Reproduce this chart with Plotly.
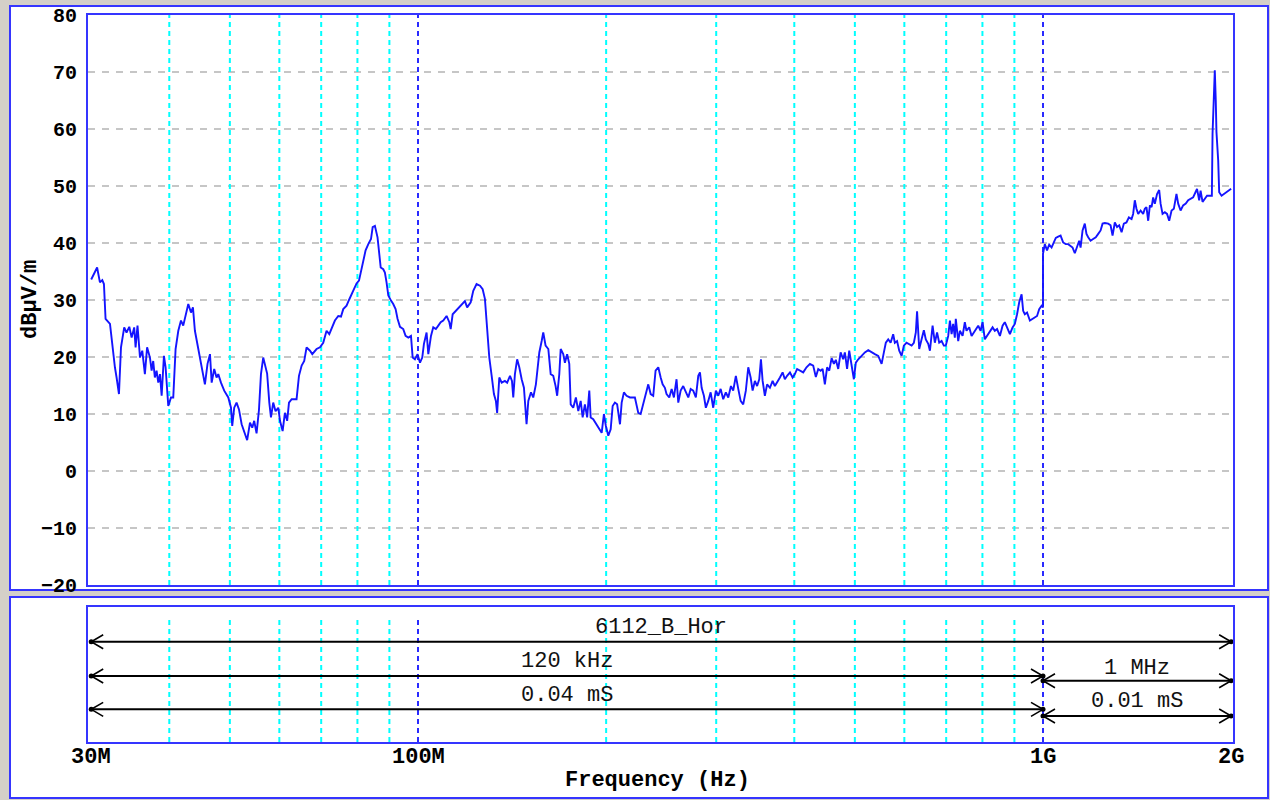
import math
import plotly.graph_objects as go

# ---------------- data ----------------
freq_mhz = [
    30.00, 30.66, 30.98, 31.25, 31.44, 31.63, 32.15, 32.42, 32.74, 32.94,
    33.23, 33.48, 33.88, 34.17, 34.52, 34.82, 35.15, 35.33, 35.58, 35.91,
    36.21, 36.56, 36.86, 37.25, 37.48, 37.70, 37.93, 38.17, 38.41, 38.65,
    38.89, 39.22, 39.46, 39.85, 40.25, 40.59, 40.94, 41.35, 41.76, 42.11,
    42.37, 42.90, 43.33, 43.64, 43.96, 44.38, 44.79, 45.16, 45.61, 46.05,
    46.47, 46.76, 47.20, 47.61, 47.91, 48.39, 48.97, 49.71, 50.21, 50.44,
    50.81, 51.25, 51.71, 52.22, 52.72,
    53.29, 53.85, 54.30, 54.69, 55.17, 55.66, 56.07, 56.54, 57.03, 57.36,
    57.82, 58.18, 58.66, 59.17, 59.77, 60.14, 60.73, 61.24, 61.75, 62.17,
    62.79, 63.93, 64.50, 65.14, 65.76, 66.33, 67.17, 67.74, 68.82, 69.69,
    70.53, 71.40, 72.12, 72.92, 73.63, 74.55, 75.30, 75.93, 76.86, 77.55,
    78.32, 79.06, 79.74, 80.46, 81.05, 81.73, 82.44, 83.27, 84.10, 84.62,
    85.32, 86.15, 86.62, 87.16, 87.98, 88.52, 89.06, 89.64, 90.53, 91.28,
    92.08, 92.74, 93.58, 94.71, 95.53, 96.49, 97.45, 98.05, 98.87, 99.83,
    100.74, 101.58, 102.21, 103.21, 103.87, 104.90, 105.78,
    106.81, 107.77, 108.72, 109.75, 111.10, 112.23, 112.80, 113.62, 114.98, 116.44,
    117.89, 118.87, 119.85, 121.43, 122.58, 124.08, 125.66, 126.90, 127.96, 129.01,
    130.04, 131.18, 132.28, 133.23, 133.85, 134.92, 136.11, 137.74, 138.88, 140.35,
    141.37, 142.04, 142.91, 144.09, 145.23, 146.51, 147.74, 149.17, 150.14, 151.63,
    152.90, 154.39, 156.35, 157.72, 158.64, 160.01, 161.62, 163.05, 164.59, 166.02,
    166.97, 168.29, 169.16, 170.76, 171.81, 173.23, 174.61, 175.51, 177.17, 178.90,
    180.50, 182.09, 183.42, 184.95, 186.48, 187.96, 188.92, 190.71, 193.06, 195.01,
    196.73, 198.37, 199.80, 201.59, 203.37, 204.86, 206.56, 208.27, 210.46, 211.77,
    213.54, 215.62, 218.36, 222.35, 225.14, 227.13, 229.28, 232.10, 233.59, 235.65,
    237.89, 239.95, 242.36, 244.50, 246.28, 248.33, 249.85, 252.37, 254.59, 256.72,
    259.22, 260.88, 263.18, 265.68, 268.27, 270.67, 273.06, 275.65, 278.34, 280.82,
    282.58, 284.33, 286.71, 288.78, 291.36, 293.94, 296.72, 299.62, 302.29, 304.96,
    307.86, 310.86, 313.64, 316.75, 319.41, 322.52, 325.40, 328.27, 331.39, 334.62,
    337.61, 340.59, 343.08, 345.94, 348.79, 351.57, 353.76, 355.95, 358.91, 361.88,
    365.70, 369.31, 372.38, 375.46, 379.42, 383.16, 386.35, 389.54, 393.65, 397.54,
    400.85, 404.16, 408.42, 413.35, 418.42,
    423.75, 428.86, 433.05, 436.91, 440.77, 443.99, 447.69, 451.38, 454.98, 458.98,
    462.82, 466.16, 470.32, 474.47, 478.97, 481.92, 485.90, 489.75, 494.06, 498.19,
    501.79, 506.27, 512.60, 518.75, 525.27, 531.84, 538.22, 544.97, 551.79, 556.40,
    560.41, 565.42, 570.42, 575.83, 579.37, 584.15, 588.80, 593.98, 598.94, 604.77,
    610.89, 616.27, 621.42, 625.90, 628.81, 633.81, 639.39, 644.73, 649.38, 655.18,
    659.28, 665.79, 671.34, 676.88, 682.26, 688.27, 694.02, 699.02, 705.27, 709.68,
    714.09, 718.25, 722.66, 725.25, 731.73, 736.31, 743.58, 749.77, 754.35, 761.98,
    768.69, 775.11, 782.66, 787.67, 794.63, 800.42, 807.09, 813.76, 822.35, 830.47,
    837.38, 844.30, 853.20, 861.63, 868.80, 875.98, 885.22, 893.96, 901.40, 908.85,
    916.08, 924.14, 929.51, 935.22, 942.95, 952.89, 962.30, 970.31, 978.33, 986.11,
    994.79, 1000.0,
    1000.0, 1006.7, 1015.0, 1023.1, 1032.1, 1040.7, 1048.3, 1057.6, 1066.9, 1077.0,
    1087.5, 1097.3, 1107.0, 1115.1, 1124.4, 1133.7, 1142.6, 1148.5, 1156.9, 1166.5,
    1173.7, 1181.2, 1191.6, 1202.9, 1214.7, 1225.6, 1236.4, 1245.4, 1255.8, 1271.5,
    1282.7, 1292.1, 1302.9, 1313.6, 1324.1, 1335.8, 1346.9, 1360.0, 1372.2, 1385.8,
    1393.9, 1402.5, 1411.0, 1420.1, 1432.6, 1446.2, 1455.1, 1464.0, 1473.4, 1482.6,
    1491.9, 1500.5, 1509.8, 1522.2, 1534.3, 1542.2, 1553.4, 1566.4, 1579.3, 1591.9,
    1605.9, 1619.3, 1635.1, 1645.5, 1660.1, 1675.8, 1692.1, 1707.3, 1722.4, 1738.7,
    1753.8, 1763.8, 1777.9, 1787.0, 1800.0, 1815.0, 1830.0, 1849.3, 1862.9, 1867.6,
    1883.1, 1889.9, 1894.6, 1906.8, 1913.8, 1930.7, 1946.8, 1965.7, 1985.7, 2000.0,
]

level_dbuvm = [
    33.6, 35.7, 33.1, 33.5, 32.8, 26.7, 25.8, 22.0, 18.2, 16.4,
    13.5, 21.7, 25.2, 24.3, 25.3, 23.4, 25.2, 21.7, 25.5, 19.9,
    21.1, 17.0, 21.7, 19.9, 17.6, 19.3, 16.4, 17.6, 15.5, 17.0,
    13.2, 20.2, 18.2, 11.4, 12.9, 12.9, 21.4, 24.6, 26.4, 25.5,
    26.9, 29.3, 27.8, 28.7, 24.6, 22.0, 19.9, 17.9, 15.2, 18.8,
    20.5, 15.5, 17.9, 16.4, 17.0, 15.5, 14.1, 12.9, 11.1, 7.9,
    11.1, 12.0, 10.8, 8.2, 6.7,
    5.4, 8.5, 7.6, 8.8, 6.6, 10.7, 17.0, 19.9, 18.5, 17.1,
    12.0, 9.4, 12.0, 10.5, 11.1, 8.8, 7.0, 10.2, 8.8, 12.0,
    12.6, 12.6, 16.7, 18.5, 19.3, 21.7, 21.1, 20.5, 21.4, 21.7,
    22.5, 24.6, 24.0, 25.2, 26.4, 27.2, 27.1, 28.4, 29.0, 30.0,
    31.0, 32.2, 32.9, 33.4, 35.1, 36.9, 38.7, 39.8, 40.7, 42.8,
    43.0, 41.0, 38.7, 35.7, 35.4, 34.8, 33.1, 30.8, 29.9, 29.3,
    28.4, 26.7, 25.3, 24.9, 23.7, 23.4, 23.7, 19.9, 19.6, 20.5,
    19.0, 19.9, 22.3, 24.3, 20.5, 23.7, 25.2,
    24.9, 25.5, 26.1, 26.4, 27.2, 26.1, 24.9, 27.5, 28.1, 28.7,
    29.3, 29.8, 28.7, 29.6, 31.6, 32.8, 32.5, 31.9, 30.2, 24.3,
    19.9, 16.7, 13.5, 12.3, 10.2, 16.4, 15.5, 15.8, 15.5, 16.7,
    15.8, 12.9, 17.0, 19.6, 18.2, 16.1, 14.6, 8.2, 12.3, 13.8,
    12.9, 15.2, 20.8, 22.8, 24.3, 22.0, 21.4, 17.0, 16.7, 14.9,
    13.2, 17.0, 21.4, 20.5, 19.0, 20.5, 18.8, 11.7, 11.1, 12.9,
    10.5, 12.3, 9.4, 11.7, 9.4, 14.1, 9.4, 9.1, 8.2, 7.3,
    6.7, 10.0, 7.9, 6.2, 7.3, 11.4, 12.0, 11.7, 8.2, 12.0,
    13.8, 13.2, 12.9, 12.9, 10.2, 10.0, 11.7, 14.1, 15.2, 13.5,
    13.2, 17.6, 18.2, 16.4, 15.2, 14.6, 13.5, 12.9, 14.4, 12.9,
    16.1, 12.0, 14.1, 14.9, 13.8, 12.9, 14.4, 14.1, 12.9, 16.7,
    17.3, 14.6, 13.2, 11.1, 12.3, 13.8, 11.1, 14.1, 13.2, 14.4,
    12.6, 13.8, 12.9, 14.9, 14.1, 16.7, 14.4, 12.3, 11.7, 14.1,
    18.2, 16.4, 14.1, 15.8, 14.9, 16.1, 19.6, 15.8, 13.2, 15.2,
    14.6, 15.8, 14.9, 15.5, 16.4, 17.3, 16.1, 16.7, 17.3, 16.4,
    17.0, 17.9, 17.6, 17.3, 18.2,
    18.8, 18.5, 16.5, 17.9, 17.6, 17.9, 15.2, 18.2, 17.6, 19.8,
    18.8, 19.5, 17.9, 20.8, 19.6, 20.8, 17.9, 21.1, 18.5, 16.1,
    19.0, 19.6, 20.2, 20.8, 21.2, 20.8, 20.5, 20.2, 18.8, 20.8,
    22.5, 23.1, 22.5, 24.0, 22.5, 22.8, 21.1, 20.2, 22.0, 22.5,
    22.3, 22.0, 22.5, 24.3, 28.0, 21.4, 23.1, 24.7, 23.1, 22.3,
    21.1, 25.5, 22.5, 24.3, 22.5, 22.8, 22.0, 22.0, 23.7, 26.4,
    24.0, 25.8, 23.4, 26.7, 22.8, 24.6, 23.7, 26.1, 24.6, 25.2,
    23.7, 24.3, 24.9, 25.5, 24.6, 26.1, 23.1, 23.7, 24.3, 25.2,
    24.6, 24.9, 23.7, 25.5, 26.1, 25.2, 24.0, 25.2, 25.8, 27.5,
    29.6, 31.0, 28.1, 27.5, 27.8, 26.4, 26.7, 26.9, 27.2, 28.4,
    29.0, 28.7,
    38.1, 39.8, 38.7, 39.7, 39.2, 40.1, 40.9, 41.1, 41.3, 40.1,
    39.8, 39.8, 39.5, 39.2, 38.2, 39.5, 40.4, 39.2, 42.2, 43.4,
    41.6, 41.0, 40.4, 40.7, 41.0, 41.6, 42.2, 43.4, 43.5, 43.4,
    43.1, 41.3, 43.6, 42.8, 43.1, 41.9, 43.4, 43.6, 44.5, 44.2,
    45.1, 47.5, 46.0, 45.1, 45.7, 45.1, 46.0, 46.3, 43.9, 46.6,
    46.3, 48.0, 46.9, 48.6, 49.3, 46.9, 45.1, 45.4, 45.1, 43.9,
    45.7, 46.0, 48.6, 46.9, 45.7, 46.6, 46.9, 47.5, 47.8, 48.0,
    48.9, 49.5, 47.5, 49.2, 47.2, 47.8, 48.3, 48.3, 48.3, 59.2,
    70.3, 65.0, 59.5, 54.5, 48.9, 48.3, 48.6, 48.9, 49.2, 49.5,
]

y_tick_values = [-20, -10, 0, 10, 20, 30, 40, 50, 60, 70, 80]
x_tick_mhz = [30, 100, 1000, 2000]
x_tick_text = ["30M", "100M", "1G", "2G"]
minor_grid_mhz = [40, 50, 60, 70, 80, 90, 200, 300, 400, 500, 600, 700, 800, 900]
major_grid_mhz = [100, 1000]

# bottom-panel span rows: (label, start MHz, stop MHz)
span_rows = [
    ("6112_B_Hor", 30, 2000),
    ("120 kHz", 30, 1000),
    ("0.04 mS", 30, 1000),
    ("1 MHz", 1000, 2000),
    ("0.01 mS", 1000, 2000),
]

# ---------------- styling / layout constants ----------------
W, H = 1270, 800
ML, MR, MT, MB = 88, 37, 15, 58
PW = W - ML - MR            # 1145
PH = H - MT - MB            # 727
XR = [7.472, 9.304]         # log10 Hz
PX_PER_DEC = PW / (XR[1] - XR[0])

TOP_Y0 = 585                # pixel bottom of top panel
BOT_Y1 = 607                # pixel top of bottom panel
top_domain = [(H - MB - TOP_Y0) / PH, 1.0]
bot_domain = [0.0, (H - MB - BOT_Y1) / PH]
BOT_H = (H - MB) - BOT_Y1   # 135 px

# y (0..1) positions in bottom panel for rows and their labels
row_line_y = [0.743, 0.489, 0.242, 0.454, 0.193]
row_text_y = [0.845, 0.595, 0.342, 0.548, 0.298]

FRAME = "#3535ff"
CURVE = "#1414ff"
CYAN = "#00ffff"
DKBLUE = "#2a2aff"
GRID = "#c6c6c6"
BG = "#d4d0c8"
MONO = "Liberation Mono"

fig = go.Figure()


def vlines(vals_mhz, y0, y1):
    xs, ys = [], []
    for v in vals_mhz:
        xs += [v * 1e6, v * 1e6, None]
        ys += [y0, y1, None]
    return xs, ys


# top-panel and bottom-panel vertical grid
for vals, col in ((minor_grid_mhz, CYAN), (major_grid_mhz, DKBLUE)):
    xs, ys = vlines(vals, -20, 80)
    fig.add_trace(go.Scatter(x=xs, y=ys, mode="lines", xaxis="x", yaxis="y",
                             line=dict(color=col, width=2, dash="5px,4px"),
                             hoverinfo="skip", showlegend=False))
    xs, ys = vlines(vals, 0, 0.93)
    fig.add_trace(go.Scatter(x=xs, y=ys, mode="lines", xaxis="x2", yaxis="y2",
                             line=dict(color=col, width=2, dash="5px,4px"),
                             hoverinfo="skip", showlegend=False))

# measurement curve
fig.add_trace(go.Scatter(x=[f * 1e6 for f in freq_mhz], y=level_dbuvm,
                         mode="lines", xaxis="x", yaxis="y",
                         line=dict(color=CURVE, width=1.9),
                         showlegend=False))

# span arrows
arm_dec = 12 / PX_PER_DEC
arm_dy = 7 / BOT_H
ax_, ay_, tipx, tipy = [], [], [], []
for (label, f0, f1), yl, yt in zip(span_rows, row_line_y, row_text_y):
    x0, x1 = f0 * 1e6, f1 * 1e6
    fig.add_trace(go.Scatter(x=[x0, x1], y=[yl, yl], mode="lines",
                             xaxis="x2", yaxis="y2",
                             line=dict(color="black", width=2),
                             hoverinfo="skip", showlegend=False))
    for tip, d in ((x0, 1), (x1, -1)):
        back = tip * 10 ** (d * arm_dec)
        ax_ += [back, tip, back, None]
        ay_ += [yl + arm_dy, yl, yl - arm_dy, None]
        tipx.append(tip)
        tipy.append(yl)
    fig.add_annotation(x=(math.log10(x0) + math.log10(x1)) / 2, y=yt,
                       xref="x2", yref="y2", text=label, showarrow=False,
                       font=dict(family=MONO, size=22, color="#111111"))

fig.add_trace(go.Scatter(x=ax_, y=ay_, mode="lines", xaxis="x2", yaxis="y2",
                         line=dict(color="black", width=1.6),
                         hoverinfo="skip", showlegend=False))
fig.add_trace(go.Scatter(x=tipx, y=tipy, mode="markers", xaxis="x2", yaxis="y2",
                         marker=dict(color="black", size=5),
                         hoverinfo="skip", showlegend=False))


def px_x(x):
    return (x - ML) / PW


def px_y(y):
    return (H - MB - y) / PH


# outer panel frames
for (x0, y0, x1, y1) in ((10, 6, 1268, 590), (10, 597, 1268, 798)):
    fig.add_shape(type="rect", xref="paper", yref="paper", layer="below",
                  x0=px_x(x0), x1=px_x(x1), y0=px_y(y0), y1=px_y(y1),
                  line=dict(color=FRAME, width=2), fillcolor="white")

bold22 = dict(family=MONO, size=22, color="black", weight="bold")

# frequency tick labels below bottom panel (placed at the axis values)
for v, t in zip(x_tick_mhz, x_tick_text):
    fig.add_annotation(x=math.log10(v * 1e6), xref="x2", y=px_y(757), yref="paper",
                       xanchor="center", yanchor="middle", text=t,
                       showarrow=False, font=bold22)

# x axis title
fig.add_annotation(x=px_x(657), xref="paper", y=px_y(780), yref="paper",
                   xanchor="center", yanchor="middle", text="Frequency (Hz)",
                   showarrow=False, font=bold22)

# y axis title
fig.add_annotation(xref="paper", yref="paper", x=px_x(31), y=px_y(300),
                   xanchor="center", yanchor="middle",
                   text="dBµV/m", textangle=-90, showarrow=False, font=bold22)

axis_line = dict(showline=True, mirror=True, linecolor=FRAME, linewidth=2,
                 zeroline=False, automargin=False)

fig.update_layout(
    width=W, height=H,
    margin=dict(l=ML, r=MR, t=MT, b=MB, autoexpand=False),
    paper_bgcolor=BG, plot_bgcolor="white",
    showlegend=False,
    xaxis=dict(type="log", range=XR, domain=[0, 1], anchor="y",
               showgrid=False, showticklabels=False, ticks="", **axis_line),
    yaxis=dict(domain=top_domain, range=[-20, 80], anchor="x",
               tickvals=y_tick_values, ticks="", ticklabelstandoff=5,
               showgrid=True, gridcolor=GRID, gridwidth=2, griddash="7px,7px",
               tickfont=dict(family=MONO, size=20, color="black", weight="bold"),
               **axis_line),
    xaxis2=dict(type="log", range=XR, domain=[0, 1], anchor="y2",
                showticklabels=False, ticks="", showgrid=False, **axis_line),
    yaxis2=dict(domain=bot_domain, range=[0, 1], anchor="x2",
                showticklabels=False, showgrid=False, ticks="", **axis_line),
)

fig.write_html("out.html")
